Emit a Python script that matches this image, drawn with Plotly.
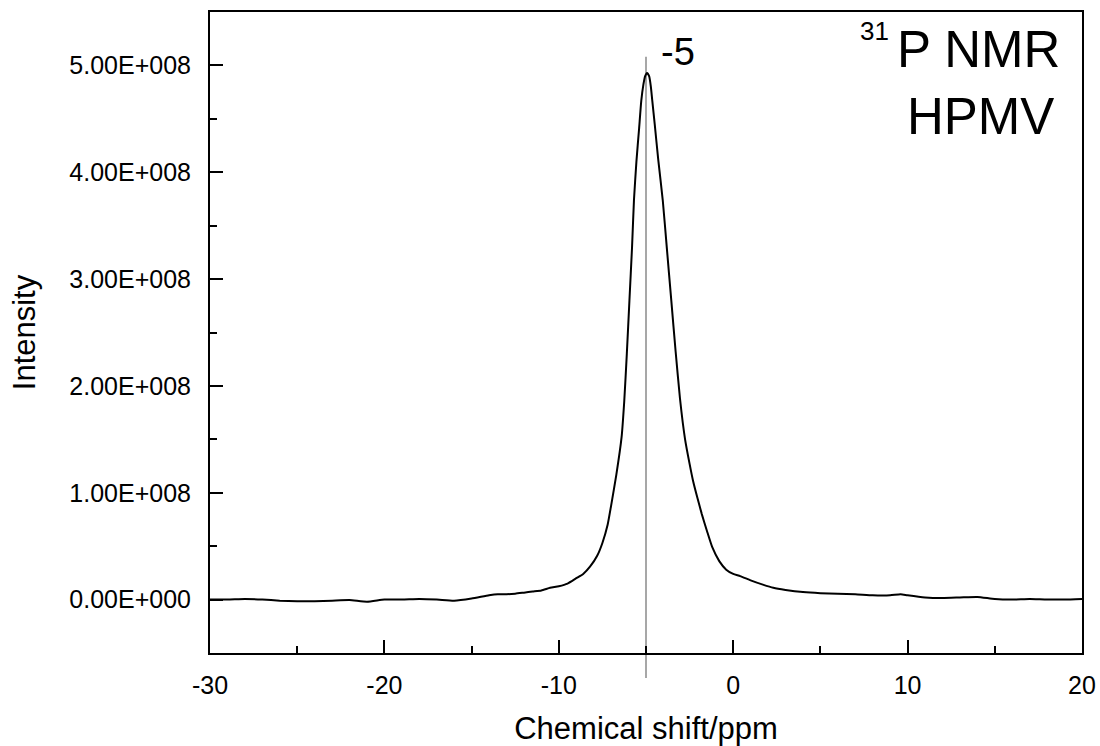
import plotly.graph_objects as go

# Chemical shift (ppm) and intensity (units of 1e8)
shift_ppm = [-30, -29, -28, -27, -26, -25, -24, -23, -22, -21, -20, -19, -18, -17, -16,
             -15, -14, -13.5, -13, -12.5, -12, -11.5, -11, -10.5, -10, -9.5, -9, -8.6,
             -8.2, -7.8, -7.5, -7.2, -7.0, -6.7, -6.4, -6.25, -6.1, -5.95, -5.8, -5.69,
             -5.55, -5.4, -5.27, -5.15, -5.05, -4.94, -4.82, -4.72, -4.64, -4.5, -4.3,
             -4.04, -3.8, -3.55, -3.3, -3.05, -2.76, -2.5, -2.3, -2.05, -1.8, -1.5, -1.2,
             -0.8, -0.4, 0.0, 0.4, 1.0, 1.7, 2.3, 3.0, 4.0, 5.0, 6.0, 7.0, 8.0, 9.0, 9.6,
             10.0, 11.0, 12.0, 13.0, 14.0, 15.0, 16.0, 17.0, 18.0, 19.0, 20.0]
intensity_e8 = [0.00, 0.00, 0.005, 0.00, -0.01, -0.015, -0.015, -0.01, -0.005, -0.02,
                0.00, 0.00, 0.005, 0.00, -0.01, 0.01, 0.04, 0.05, 0.05, 0.055, 0.065,
                0.075, 0.085, 0.11, 0.125, 0.15, 0.20, 0.24, 0.31, 0.41, 0.53, 0.70,
                0.88, 1.17, 1.52, 1.85, 2.30, 2.80, 3.30, 3.74, 4.10, 4.40, 4.67, 4.82,
                4.90, 4.93, 4.90, 4.80, 4.67, 4.45, 4.12, 3.74, 3.28, 2.80, 2.32, 1.88,
                1.50, 1.27, 1.11, 0.95, 0.80, 0.64, 0.49, 0.36, 0.28, 0.24, 0.22, 0.18,
                0.14, 0.11, 0.09, 0.07, 0.06, 0.055, 0.05, 0.04, 0.04, 0.05, 0.04, 0.02,
                0.015, 0.02, 0.025, 0.005, 0.0, 0.005, 0.0, 0.0, 0.005]
intensity = [v * 1e8 for v in intensity_e8]

peak_shift = -5
peak_label = "-5"

x_tickvals = [-30, -20, -10, 0, 10, 20]
x_ticktext = ["-30", "-20", "-10", "0", "10", "20"]
y_tickvals = [0, 1e8, 2e8, 3e8, 4e8, 5e8]
y_ticktext = ["0.00E+000", "1.00E+008", "2.00E+008", "3.00E+008", "4.00E+008", "5.00E+008"]

FONT = "Arial, Liberation Sans, sans-serif"

fig = go.Figure()
fig.add_trace(go.Scatter(x=shift_ppm, y=intensity, mode="lines",
                         line=dict(color="black", width=2, shape="spline", smoothing=0.5),
                         showlegend=False))

fig.add_shape(type="line", xref="x", yref="paper", x0=peak_shift, x1=peak_shift,
              y0=-0.039, y1=0.93, line=dict(color="#8a8a8a", width=1.5), layer="below")

fig.add_annotation(x=peak_shift, xref="x", y=0.938, yref="paper", text=peak_label,
                   showarrow=False, xanchor="left", yanchor="middle", xshift=13,
                   font=dict(family=FONT, size=38, color="black"))
fig.add_annotation(x=0.977, xref="paper", y=0.941, yref="paper", text="P NMR",
                   showarrow=False, xanchor="right", yanchor="middle",
                   font=dict(family=FONT, size=51, color="black"))
fig.add_annotation(x=0.781, xref="paper", y=0.970, yref="paper", text="31",
                   showarrow=False, xanchor="right", yanchor="middle",
                   font=dict(family=FONT, size=26, color="black"))
fig.add_annotation(x=0.970, xref="paper", y=0.837, yref="paper", text="HPMV",
                   showarrow=False, xanchor="right", yanchor="middle",
                   font=dict(family=FONT, size=51, color="black"))

fig.update_layout(
    width=1100, height=746,
    margin=dict(l=210, r=18, t=12, b=93),
    plot_bgcolor="white", paper_bgcolor="white",
    font=dict(family=FONT, size=25, color="black"),
    xaxis=dict(range=[-30, 20], tickvals=x_tickvals, ticktext=x_ticktext,
               ticks="inside", ticklen=13, tickwidth=2,
               tickcolor="black", showline=True, linecolor="black", linewidth=2,
               mirror=True, showgrid=False, zeroline=False, automargin=False,
               minor=dict(dtick=5, ticks="inside", ticklen=7, tickwidth=2, tickcolor="black", showgrid=False),
               tickfont=dict(size=25), ticklabelstandoff=9,
               title=dict(text="Chemical shift/ppm", font=dict(size=31), standoff=24)),
    yaxis=dict(range=[-0.5e8, 5.5e8], tickvals=y_tickvals, ticktext=y_ticktext,
               ticks="inside", ticklen=13, tickwidth=2, tickcolor="black",
               showline=True, linecolor="black", linewidth=2, mirror=True,
               showgrid=False, zeroline=False, automargin=False,
               minor=dict(tick0=0, dtick=0.5e8, ticks="inside", ticklen=7, tickwidth=2, tickcolor="black", showgrid=False),
               tickfont=dict(size=25), ticklabelstandoff=12,
               title=dict(text="Intensity", font=dict(size=31), standoff=24)),
)

fig.write_html("out.html")
